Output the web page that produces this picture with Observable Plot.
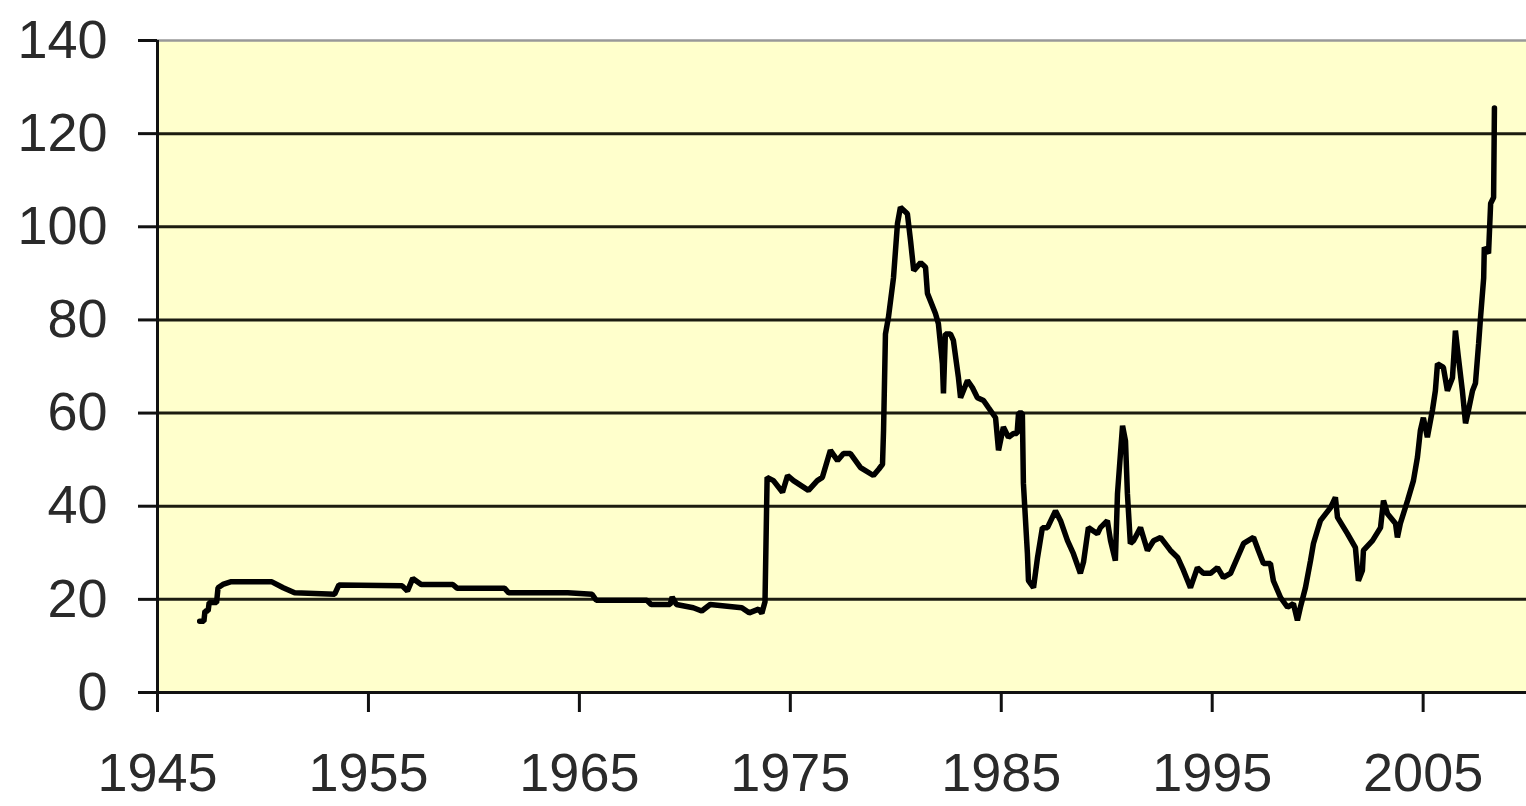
<!DOCTYPE html>
<html><head><meta charset="utf-8">
<script src="https://cdn.jsdelivr.net/npm/d3@7"></script>
<script src="https://cdn.jsdelivr.net/npm/@observablehq/plot@0.6"></script>
<style>html,body{margin:0;padding:0;background:#fff;overflow:hidden}</style>
</head><body><div id="chart"></div>
<script>
const years = [
1947.0,1947.2,1947.25,1947.4,1947.45,1947.8,1947.87,1948.1,1948.5,1950.4,1950.96,1951.5,1953.4,1953.6,1956.6,1956.85,1957.1,1957.5,1959.0,1959.2,1961.45,1961.65,1964.45,1965.6,1965.8,1968.2,1968.4,1969.3,1969.4,1969.6,1970.4,1970.8,1971.2,1972.7,1973.05,1973.5,1973.65,1973.8,
1973.9,1974.2,1974.63,1974.87,1975.15,1975.86,1976.28,1976.52,1976.9,1977.24,1977.52,1977.85,1978.33,1978.94,1979.2,1979.37,1979.42,1979.51,1979.65,1979.89,1980.08,1980.22,1980.55,1980.7,1980.85,1981.18,1981.41,1981.5,1981.88,1982.02,1982.21,1982.26,1982.35,1982.59,1982.73,1982.97,1983.07,1983.4,1983.63,1983.87,1984.16,1984.39,1984.73,1984.87,1985.1,1985.34,1985.58,1985.75,1985.82,1986.0,1986.05,1986.24,1986.29,1986.53,1986.72,1986.95,1987.19,1987.57,1987.81,1988.14,1988.42,1988.75,1988.9,1989.13,1989.56,1989.7,1990.03,1990.18,1990.41,1990.51,1990.75,1990.89,1990.98,1991.12,1991.27,1991.6,1991.93,1992.22,1992.55,1993.02,1993.36,1993.64,1993.97,1994.3,1994.58,1994.92,1995.25,1995.53,1995.87,1996.2,1996.49,1996.96,1997.19,1997.43,1997.76,1997.9,1998.24,1998.57,1998.85,1999.04,1999.18,1999.42,1999.66,1999.8,2000.0,2000.13,2000.61,2000.84,2000.94,2001.41,2001.79,2001.93,2002.12,2002.17,2002.6,2002.98,2003.12,2003.31,2003.69,2003.78,2003.92,2004.26,2004.54,2004.73,2004.87,2005.01,2005.2,2005.44,2005.58,2005.68,2005.96,2006.15,2006.39,2006.53,2006.67,2006.86,2007.01,2007.15,2007.34,2007.48,2007.63,2007.72,2007.87,2007.9,2008.1,2008.2,2008.34,2008.38
];
const prices = [
15.3,15.3,17.5,17.5,19.3,19.3,22.5,23.2,23.8,23.8,22.5,21.4,21.1,23.1,22.9,21.8,24.5,23.2,23.2,22.4,22.4,21.4,21.4,21.1,19.8,19.8,18.9,18.9,20.5,18.9,18.2,17.5,18.9,18.2,17.1,17.9,17.0,19.5,
46.2,45.5,43,46.6,45.5,43.4,45.5,46.2,52,49.8,51.3,51.3,48.3,46.6,48,49,56.3,77,80.5,89,100.7,104.2,102.8,97,90.6,92.3,91.3,85.7,81.4,79.2,70.6,64.2,77,77,75.6,67.6,63.3,67,65.5,63.3,62.7,61.2,59,52,57,54.8,55.6,55.6,60,60,44.9,29.8,24,22.5,29,35.4,35.4,39,36.9,32.6,29.8,25.6,28,35.4,34.1,35.4,36.9,32.6,28.3,42.7,57.3,54,42.7,32,32.6,35.4,30.5,32.6,33.3,30.5,29,26.2,22.5,26.8,25.6,25.6,26.8,24.7,25.6,29,32,33.3,30.5,27.7,27.7,24,20.4,18.3,19.1,15.5,18.3,22.5,28.3,32,35,36.9,39.7,41.9,37.6,34.1,31.1,24,26.2,30.5,32.6,35.4,41.2,38.4,36.3,33.3,36.3,41.2,45.5,50.5,56.3,59,54.8,60.6,64.8,70.6,69.8,64.8,67.6,77.7,72,64.8,57.8,60.6,64.8,66.4,74.9,80.5,89,95.6,94.3,105,106.3,125.5
];
const yTicks = [0,20,40,60,80,100,120,140];
const xTicks = [1945,1955,1965,1975,1985,1995,2005];
const data = years.map((t,i)=>({year:t, price:prices[i]}));
const chart = Plot.plot({
  width:1526, height:806, marginLeft:157, marginRight:0, marginTop:40, marginBottom:114,
  style:{fontFamily:"'Liberation Sans', Arial, sans-serif", color:"#2a2a2a", background:"#fff"},
  x:{domain:[1945,2009.9], label:null}, y:{domain:[0,140], label:null},
  marks:[
    Plot.frame({fill:"#ffffcc", stroke:"none"}),
    Plot.ruleY(yTicks.filter(v=>v>0 && v<140), {stroke:"#1c1c10", strokeWidth:3}),
    Plot.ruleY([140], {stroke:"#999", strokeWidth:2.5}),
    Plot.axisY({ticks:yTicks, label:null, tickSize:19, tickPadding:31, tickFormat:d=>String(d), fontSize:54, strokeWidth:3, stroke:"#111"}),
    Plot.axisX({ticks:xTicks, label:null, tickSize:20, tickPadding:40, tickFormat:d=>String(d), fontSize:54, strokeWidth:3, stroke:"#111"}),
    Plot.ruleY([0], {stroke:"#111", strokeWidth:3}),
    Plot.ruleX([1945], {stroke:"#111", strokeWidth:3}),
    Plot.line(data, {x:"year", y:"price", stroke:"#000", strokeWidth:5.5, strokeLinejoin:"miter"})
  ]
});
document.getElementById("chart").appendChild(chart);
</script>
</body></html>
